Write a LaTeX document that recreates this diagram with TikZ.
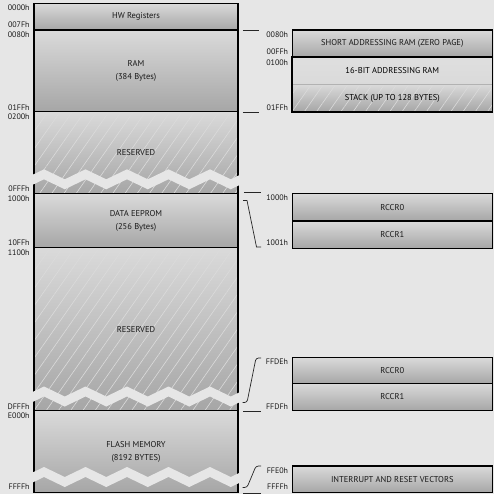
\documentclass[tikz,border=0pt]{standalone}
\usepackage{fontspec}
\setmainfont{PT Sans}
\usetikzlibrary{patterns.meta}

\definecolor{bgc}{RGB}{230,230,230}
\definecolor{blktop}{RGB}{218,218,218}
\definecolor{blkmid}{RGB}{204,204,204}
\definecolor{blkbot}{RGB}{166,166,166}
\definecolor{hatchc}{RGB}{219,219,219}

% white zigzag gap across the left column, #1 = top of the band
\newcommand{\zigband}[1]{%
  \begin{scope}
    \clip (32,#1-3) rectangle (240.5,#1+24);
    \fill[bgc] (23.25,#1+10) \foreach \j in {1,...,11}{ -- ({23.25+20.75*\j},{#1+10*mod(\j+1,2)}) }
      \foreach \j in {11,...,0}{ -- ({23.25+20.75*\j},{#1+10+10*mod(\j+1,2)}) } -- cycle;
  \end{scope}}

\begin{document}
\begin{tikzpicture}[x=1pt, y=-1pt, font=\fontsize{8.5}{13}\selectfont, line width=0.8pt,
  blk/.style={draw=black, line width=1.5pt, rectangle, inner sep=0pt, top color=blktop, middle color=blkmid, bottom color=blkbot, align=center, text=black!90},
  hatch/.style={postaction={pattern={Lines[angle=55,distance=10pt,line width=0.6pt]}, pattern color=hatchc}},
  hatchblk/.style={hatch, postaction={draw=black, line width=1.5pt}},
  addr/.style={anchor=east, inner sep=0pt, text=black!90, font=\fontsize{8}{9}\selectfont},
  brk/.style={line width=0.7pt, black!85}]
  \path[use as bounding box, fill=bgc] (0,0) rectangle (494,494);

  % memory map
  \node[blk, minimum width=204pt, minimum height=26.7pt] (hwreg) at (136,16.65) {HW Registers};
  \node[blk, minimum width=204pt, minimum height=81.7pt] (ram) at (136,70.85) {RAM\\(384 Bytes)};
  \node[blk, hatchblk, minimum width=204pt, minimum height=81.6pt] (resa) at (136,152.5) {RESERVED};
  \node[blk, minimum width=204pt, minimum height=54.4pt] (eeprom) at (136,220.5) {DATA EEPROM\\(256 Bytes)};
  \node[blk, hatchblk, minimum width=204pt, minimum height=163pt] (resb) at (136,329.2) {RESERVED};
  \node[blk, minimum width=204pt, minimum height=82pt] (flash) at (136,451.7) {FLASH MEMORY\\(8192 BYTES)};

  \zigband{169.3}
  \zigband{386.5}
  \zigband{467}

  % details
  \node[blk, minimum width=200pt, minimum height=27.3pt] (zpage) at (392.3,43.65) {SHORT ADDRESSING RAM (ZERO PAGE)};
  \node[rectangle, inner sep=0pt, top color=blktop!60!bgc, bottom color=blktop, minimum width=200pt, minimum height=27pt] (ram16) at (392.3,70.8) {16-BIT ADDRESSING RAM};
  \node[rectangle, inner sep=0pt, hatch, top color=blktop, middle color=blkmid, bottom color=blkbot, minimum width=200pt, minimum height=27.4pt] (stack) at (392.3,98) {STACK (UP TO 128 BYTES)};
  \draw[gray!60, line width=0.6pt] (ram16.south west) -- (ram16.south east);
  \draw[line width=1.5pt] (ram16.north west) rectangle (stack.south east);

  \node[blk, minimum width=200pt, minimum height=27.7pt] (rccra) at (392.3,207.15) {RCCR0};
  \node[blk, minimum width=200pt, minimum height=27.7pt] (rccrb) at (392.3,234.85) {RCCR1};
  \node[blk, minimum width=200pt, minimum height=26pt] (rccrc) at (392.3,370.3) {RCCR0};
  \node[blk, minimum width=200pt, minimum height=27.4pt] (rccrd) at (392.3,397) {RCCR1};
  \node[blk, minimum width=200pt, minimum height=26.7pt] (vectors) at (392.3,479.35) {INTERRUPT AND RESET VECTORS};

  % addresses
  \node[addr] (a0000) at (30,7.5) {0000h};
  \node[addr] (a007f) at (30,25) {007Fh};
  \node[addr] (a0080) at (30,34.5) {0080h};
  \node[addr] (a01ff) at (30,107.3) {01FFh};
  \node[addr] (a0200) at (30,116.7) {0200h};
  \node[addr] (a0fff) at (30,189) {0FFFh};
  \node[addr] (a1000) at (30,199) {1000h};
  \node[addr] (a10ff) at (30,243) {10FFh};
  \node[addr] (a1100) at (30,253) {1100h};
  \node[addr] (adfff) at (30,406.5) {DFFFh};
  \node[addr] (ae000) at (30,415.5) {E000h};
  \node[addr] (affff) at (30,486.7) {FFFFh};

  \node[addr] (b0080) at (288.5,35) {0080h};
  \node[addr] (b00ff) at (288.5,51.7) {00FFh};
  \node[addr] (b0100) at (288.5,62.7) {0100h};
  \node[addr] (b01ff) at (288.5,107.3) {01FFh};
  \node[addr] (b1000) at (288.5,197.5) {1000h};
  \node[addr] (b1001) at (288.5,243) {1001h};
  \node[addr] (bffde) at (288.5,361.7) {FFDEh};
  \node[addr] (bffdf) at (288.5,406.7) {FFDFh};
  \node[addr] (bffe0) at (288.5,471) {FFE0h};
  \node[addr] (bffff) at (288.5,486.7) {FFFFh};

  % brackets
  \draw[brk] ([xshift=4pt]hwreg.south east) -- +(16,0);
  \draw[brk] ([xshift=4pt]ram.south east) -- +(16,0);
  \draw[brk] ([xshift=5pt]eeprom.north east) -- +(17,0);
  \draw[brk] (243,200.5) -- (247,200.5) -- (256.5,247) -- (261,247);
  \draw[brk, rounded corners=2.5pt] (261,358) -- (256,358) -- (247,402.5) -- (242.5,402.5);
  \draw[brk] ([xshift=4.5pt]resb.south east) -- +(18,0);
  \draw[brk, rounded corners=2.5pt] (261,466) -- (256,466) -- (247,487.5) -- (242.5,487.5);
  \draw[brk] ([xshift=4.5pt]flash.south east) -- +(18,0);
\end{tikzpicture}
\end{document}
